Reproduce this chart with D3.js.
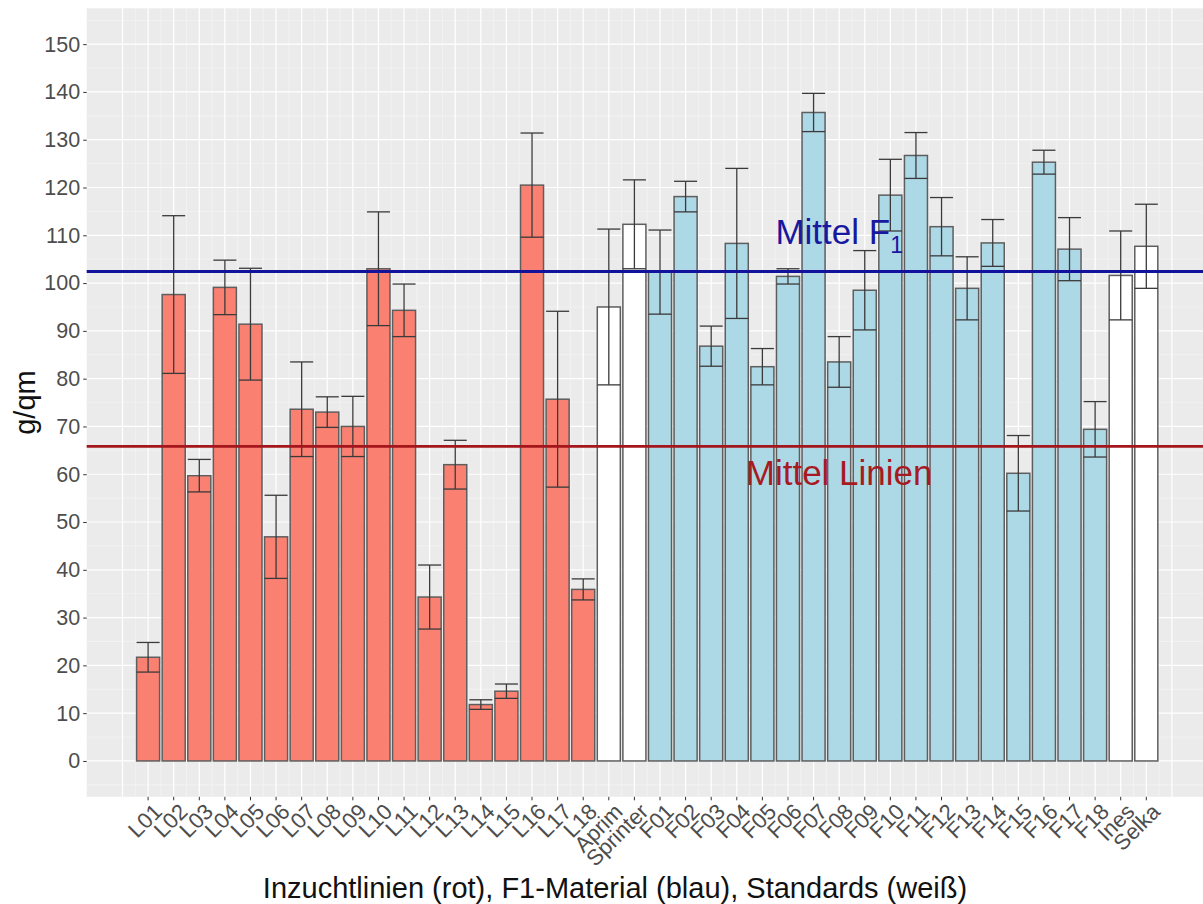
<!DOCTYPE html>
<html>
<head>
<meta charset="utf-8">
<script src="https://cdn.jsdelivr.net/npm/d3@7"></script>
<style>
  html, body { margin: 0; padding: 0; background: #ffffff; }
  svg { display: block; font-family: "Liberation Sans", Arial, sans-serif; }
</style>
</head>
<body>
<svg id="chart" width="1203" height="904"></svg>
<script>
// Genotypes: inbred lines (L), two standards, F1 hybrids (F), two standards
const categories = [
  "L01","L02","L03","L04","L05","L06","L07","L08","L09","L10",
  "L11","L12","L13","L14","L15","L16","L17","L18",
  "Aprim","Sprinter",
  "F01","F02","F03","F04","F05","F06","F07","F08","F09","F10",
  "F11","F12","F13","F14","F15","F16","F17","F18",
  "Ines","Selka"
];
const groups = [
  "L","L","L","L","L","L","L","L","L","L","L","L","L","L","L","L","L","L",
  "S","S",
  "F","F","F","F","F","F","F","F","F","F","F","F","F","F","F","F","F","F",
  "S","S"
];
// Mean yield (g/qm)
const means = [
  21.7, 97.6, 59.7, 99.1, 91.4, 46.9, 73.6, 73.0, 70.0, 103.0,
  94.3, 34.3, 62.0, 11.8, 14.6, 120.5, 75.7, 35.9,
  95.0, 112.3,
  102.3, 118.1, 86.8, 108.3, 82.5, 101.4, 135.7, 83.5, 98.5, 118.4,
  126.7, 111.8, 98.9, 108.4, 60.2, 125.3, 107.1, 69.4,
  101.6, 107.7
];
// Standard deviation per genotype
const sds = [
  3.1, 16.5, 3.4, 5.7, 11.7, 8.7, 9.9, 3.2, 6.3, 11.9,
  5.5, 6.7, 5.1, 1.0, 1.5, 10.9, 18.4, 2.2,
  16.3, 9.3,
  8.8, 3.2, 4.2, 15.7, 3.8, 1.6, 4.0, 5.3, 8.3, 7.5,
  4.8, 6.1, 6.6, 4.9, 7.9, 2.5, 6.6, 5.8,
  9.3, 8.8
];
const yTicks = [0,10,20,30,40,50,60,70,80,90,100,110,120,130,140,150];
const groupFill = { L: "#FA8072", F: "#ADD8E6", S: "#FFFFFF" };

// Group means drawn as horizontal reference lines
const meanLinien = d3.mean(means.filter((v, i) => groups[i] === "L"));
const meanF1 = d3.mean(means.filter((v, i) => groups[i] === "F"));
const labelF1 = { cat: "F08", value: 108.2 };
const labelLinien = { cat: "F08", value: 57.7 };

const svg = d3.select("#chart");
const panel = { left: 86.7, right: 1203, top: 8.3, bottom: 796.8 };

const x = d3.scaleBand().domain(categories).range([135.3, 1159.1]).padding(0);
const step = x.step();
const cx = c => x(c) + x.bandwidth() / 2;
const barW = step * 0.9;

const y = d3.scaleLinear().domain([-7.5, 157.5]).range([panel.bottom, panel.top]);

// panel background
svg.append("rect")
  .attr("x", panel.left).attr("y", panel.top)
  .attr("width", panel.right - panel.left).attr("height", panel.bottom - panel.top)
  .attr("fill", "#EBEBEB");

const grid = svg.append("g");
// minor horizontal
d3.range(-5, 160, 10).forEach(v => {
  grid.append("line").attr("x1", panel.left).attr("x2", panel.right)
    .attr("y1", y(v)).attr("y2", y(v)).attr("stroke", "#F5F5F5").attr("stroke-width", 0.7);
});
// minor vertical
d3.range(0, categories.length + 1).forEach(i => {
  const xv = x.range()[0] + i * step;
  grid.append("line").attr("x1", xv).attr("x2", xv)
    .attr("y1", panel.top).attr("y2", panel.bottom).attr("stroke", "#F5F5F5").attr("stroke-width", 0.7);
});
// major horizontal
yTicks.forEach(v => {
  grid.append("line").attr("x1", panel.left).attr("x2", panel.right)
    .attr("y1", y(v)).attr("y2", y(v)).attr("stroke", "#FFFFFF").attr("stroke-width", 1.2);
});
// major vertical (category centers plus one on each side)
d3.range(-1, categories.length + 1).forEach(i => {
  const xv = x.range()[0] + (i + 0.5) * step;
  grid.append("line").attr("x1", xv).attr("x2", xv)
    .attr("y1", panel.top).attr("y2", panel.bottom).attr("stroke", "#FFFFFF").attr("stroke-width", 1.2);
});

const data = categories.map((c, i) => ({ c, g: groups[i], m: means[i], sd: sds[i] }));

// bars
svg.append("g").selectAll("rect").data(data).join("rect")
  .attr("x", d => cx(d.c) - barW / 2)
  .attr("width", barW)
  .attr("y", d => y(d.m))
  .attr("height", d => y(0) - y(d.m))
  .attr("fill", d => groupFill[d.g])
  .attr("stroke", "#5E5E5E")
  .attr("stroke-width", 1.5);

// error bars
const eb = svg.append("g").attr("stroke", "#3A3A3A").attr("stroke-width", 1.3).attr("fill", "none");
data.forEach(d => {
  const xc = cx(d.c), hw = barW / 2;
  eb.append("line").attr("x1", xc).attr("x2", xc).attr("y1", y(d.m + d.sd)).attr("y2", y(d.m - d.sd));
  eb.append("line").attr("x1", xc - hw).attr("x2", xc + hw).attr("y1", y(d.m + d.sd)).attr("y2", y(d.m + d.sd));
  eb.append("line").attr("x1", xc - hw).attr("x2", xc + hw).attr("y1", y(d.m - d.sd)).attr("y2", y(d.m - d.sd));
});

// mean lines
svg.append("line").attr("x1", panel.left).attr("x2", panel.right)
  .attr("y1", y(meanF1)).attr("y2", y(meanF1))
  .attr("stroke", "#12129C").attr("stroke-width", 3);
svg.append("line").attr("x1", panel.left).attr("x2", panel.right)
  .attr("y1", y(meanLinien)).attr("y2", y(meanLinien))
  .attr("stroke", "#A5161C").attr("stroke-width", 2.6);

// labels for mean lines
const tF1 = svg.append("text")
  .attr("x", cx(labelF1.cat)).attr("y", y(labelF1.value))
  .attr("text-anchor", "middle").attr("font-size", 35).attr("fill", "#1818A0");
tF1.append("tspan").text("Mittel F");
tF1.append("tspan").attr("font-size", 23).attr("dy", 9).text("1");

svg.append("text")
  .attr("x", cx(labelLinien.cat)).attr("y", y(labelLinien.value))
  .attr("text-anchor", "middle").attr("font-size", 35).attr("fill", "#A81A22")
  .text("Mittel Linien");

// y axis
const yAxis = d3.axisLeft(y).tickValues(yTicks).tickSize(3.5).tickPadding(3);
const gy = svg.append("g").attr("transform", `translate(${panel.left},0)`).call(yAxis);
gy.select(".domain").remove();
gy.selectAll(".tick line").attr("stroke", "#333333");
gy.selectAll(".tick text").attr("fill", "#4D4D4D").attr("font-size", 21.5)
  .attr("font-family", "Liberation Sans, Arial, sans-serif");

// x axis
const xAxis = d3.axisBottom(x).tickSize(3.5).tickPadding(2);
const gx = svg.append("g").attr("transform", `translate(0,${panel.bottom})`).call(xAxis);
gx.select(".domain").remove();
gx.selectAll(".tick line").attr("stroke", "#333333");
gx.selectAll(".tick text")
  .attr("fill", "#4D4D4D").attr("font-size", 22)
  .attr("font-family", "Liberation Sans, Arial, sans-serif")
  .attr("text-anchor", "end")
  .attr("dy", "0.72em")
  .attr("transform", "translate(4,5) rotate(-45)")
  .attr("y", 0).attr("x", 0);

// axis titles
svg.append("text")
  .attr("x", 615).attr("y", 898)
  .attr("text-anchor", "middle").attr("font-size", 29).attr("fill", "#111111")
  .text("Inzuchtlinien (rot), F1-Material (blau), Standards (weiß)");

svg.append("text")
  .attr("transform", `translate(35,${(panel.top + panel.bottom) / 2}) rotate(-90)`)
  .attr("text-anchor", "middle").attr("font-size", 29).attr("fill", "#111111")
  .text("g/qm");
</script>
</body>
</html>
